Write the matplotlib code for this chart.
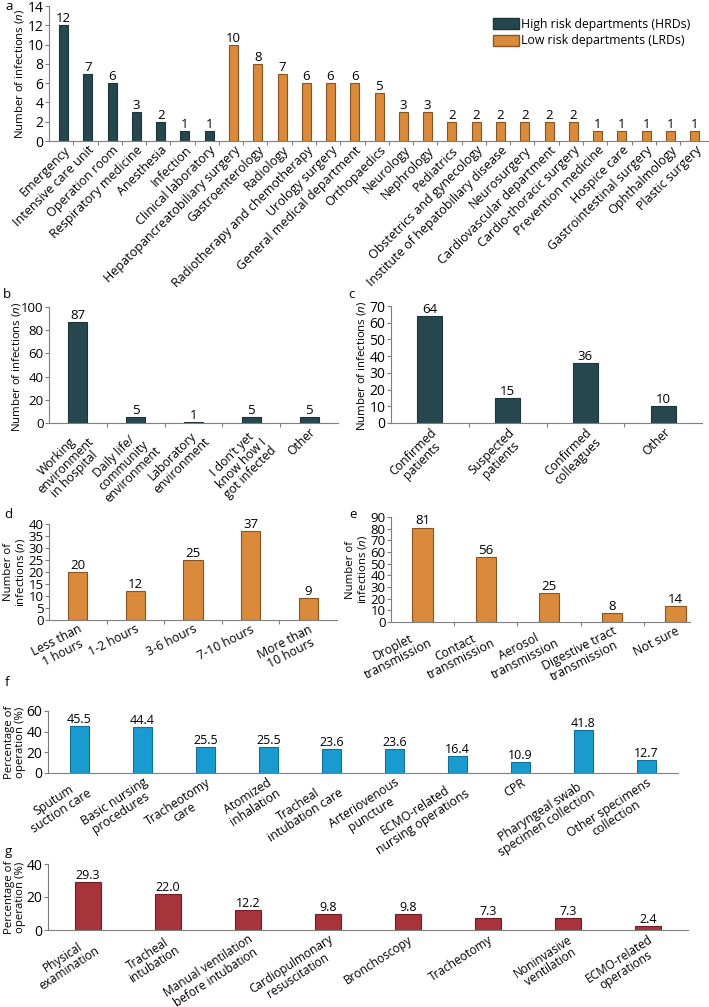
import matplotlib
matplotlib.use("Agg")
import matplotlib.pyplot as plt
from matplotlib.patches import Patch

plt.rcParams['font.family'] = ['Open Sans', 'DejaVu Sans']
plt.rcParams['mathtext.fontset'] = 'custom'
plt.rcParams['mathtext.rm'] = 'Open Sans'
plt.rcParams['mathtext.it'] = 'Open Sans:italic'

# ---------------- data ----------------
a_hrd_labels = ["Emergency", "Intensive care unit", "Operation room", "Respiratory medicine",
                "Anesthesia", "Infection", "Clinical laboratory"]
a_hrd_values = [12, 7, 6, 3, 2, 1, 1]
a_lrd_labels = ["Hepatopancreatobiliary surgery", "Gastroenterology", "Radiology",
                "Radiotherapy and chemotherapy", "Urology surgery", "General medical department",
                "Orthopaedics", "Neurology", "Nephrology", "Pediatrics", "Obstetrics and gynecology",
                "Institute of hepatobiliary disease", "Neurosurgery", "Cardiovascular department",
                "Cardio-thoracic surgery", "Prevention medicine", "Hospice care",
                "Gastrointestinal surgery", "Ophthalmology", "Plastic surgery"]
a_lrd_values = [10, 8, 7, 6, 6, 6, 5, 3, 3, 2, 2, 2, 2, 2, 2, 1, 1, 1, 1, 1]

b_labels = ["Working\nenvironment\nin hospital", "Daily life/\ncommunity\nenvironment",
            "Laboratory\nenvironment", "I don\u2019t yet\nknow how I\ngot infected", "Other"]
b_values = [87, 5, 1, 5, 5]

c_labels = ["Confirmed\npatients", "Suspected\npatients", "Confirmed\ncolleagues", "Other"]
c_values = [64, 15, 36, 10]

d_labels = ["Less than\n1 hours", "1-2 hours", "3-6 hours", "7-10 hours", "More than\n10 hours"]
d_values = [20, 12, 25, 37, 9]

e_labels = ["Droplet\ntransmission", "Contact\ntransmission", "Aerosol\ntransmission",
            "Digestive tract\ntransmission", "Not sure"]
e_values = [81, 56, 25, 8, 14]

f_labels = ["Sputum\nsuction care", "Basic nursing\nprocedures", "Tracheotomy\ncare",
            "Atomized\ninhalation", "Tracheal\nintubation care", "Arteriovenous\npuncture",
            "ECMO-related\nnursing operations", "CPR", "Pharyngeal swab\nspecimen collection",
            "Other specimens\ncollection"]
f_values = [45.5, 44.4, 25.5, 25.5, 23.6, 23.6, 16.4, 10.9, 41.8, 12.7]

g_labels = ["Physical\nexamination", "Tracheal\nintubation", "Manual ventilation\nbefore intubation",
            "Cardiopulmonary\nresuscitation", "Bronchoscopy", "Tracheotomy", "Noninvasive\nventilation",
            "ECMO-related\noperations"]
g_values = [29.3, 22.0, 12.2, 9.8, 9.8, 7.3, 7.3, 2.4]

# ---------------- style ----------------
TEAL, TEAL_E = '#27474e', '#1c3338'
ORANGE, ORANGE_E = '#d98a3a', '#8a5422'
BLUE, BLUE_E = '#1a9bd0', '#136f96'
RED, RED_E = '#a7333b', '#6e1f25'
SPINE = '#7f7f7f'
YLAB_FS = 8.2

W, H = 709, 1007
fig = plt.figure(figsize=(W / 100, H / 100), dpi=100)


def add_ax(l, t, r, b):
    ax = fig.add_axes([l / W, 1 - b / H, (r - l) / W, (b - t) / H])
    ax.patch.set_visible(False)
    return ax


def ylabel(text, xpx, t, b):
    fig.text(xpx / W, 1 - (t + b) / 2 / H, text, rotation=90, ha='center', va='center',
             fontsize=YLAB_FS, multialignment='center', linespacing=1.0)


def style(ax, ylim, yticks, xlim, between_ticks=True, yfs=10):
    for s in ['top', 'right']:
        ax.spines[s].set_visible(False)
    for s in ['left', 'bottom']:
        ax.spines[s].set_color(SPINE)
        ax.spines[s].set_linewidth(0.8)
    ax.set_ylim(*ylim)
    ax.set_yticks(list(yticks))
    ax.set_xlim(*xlim)
    ax.tick_params(axis='y', length=3, width=0.8, color=SPINE, pad=1, labelsize=yfs)
    ax.tick_params(axis='x', which='major', length=0, pad=2)
    if between_ticks:
        n = int(round(xlim[1] - xlim[0]))
        ax.set_xticks([xlim[0] + i + 1 for i in range(n - 1)], minor=True)
        ax.tick_params(axis='x', which='minor', length=3, width=0.8, color=SPINE)


def bars(ax, labels, values, color, ecolor, width, fmt, fs=9.5, rot=45, lfs=8.8):
    x = list(range(len(values)))
    ax.bar(x, values, width=width, color=color, edgecolor=ecolor, linewidth=0.8)
    ax.set_xticks(x)
    ax.set_xticklabels(labels, rotation=rot, ha='right', rotation_mode='anchor',
                       multialignment='center', fontsize=lfs, linespacing=1.0)
    for xi, v in zip(x, values):
        ax.text(xi, v, fmt.format(v), ha='center', va='bottom', fontsize=fs)


# ---------------- panel a ----------------
axa = add_ax(49, 6, 708, 141)
a_labels = a_hrd_labels + a_lrd_labels
a_values = a_hrd_values + a_lrd_values
a_colors = [TEAL] * len(a_hrd_values) + [ORANGE] * len(a_lrd_values)
a_ecolors = [TEAL_E] * len(a_hrd_values) + [ORANGE_E] * len(a_lrd_values)
xa = list(range(len(a_values)))
axa.bar(xa, a_values, width=0.37, color=a_colors, edgecolor=a_ecolors, linewidth=0.8)
axa.set_xticks(xa)
axa.set_xticklabels(a_labels, rotation=45, ha='right', rotation_mode='anchor', fontsize=9)
for xi, v in zip(xa, a_values):
    axa.text(xi, v, str(v), ha='center', va='bottom', fontsize=9.5)
style(axa, (0, 14), range(0, 15, 2), (-0.6, len(a_values) - 0.45))
ylabel('Number of infections ($\\it{n}$)', 20, 6, 141)
axa.legend(handles=[Patch(facecolor=TEAL, edgecolor=TEAL_E, label='High risk departments (HRDs)'),
                    Patch(facecolor=ORANGE, edgecolor=ORANGE_E, label='Low risk departments (LRDs)')],
           loc='upper right', bbox_to_anchor=(0.98, 0.95), frameon=False, fontsize=8.8,
           handlelength=2.2, handleheight=1.0, handletextpad=0.1, labelspacing=0.3, borderaxespad=0)

# ---------------- panel b ----------------
axb = add_ax(49, 307, 338, 423)
bars(axb, b_labels, b_values, TEAL, TEAL_E, 0.33, '{}', rot=45)
style(axb, (0, 100), range(0, 101, 20), (-0.5, 4.5), yfs=9.5)
ylabel('Number of infections ($\\it{n}$)', 17, 310, 423)

# ---------------- panel c ----------------
axc = add_ax(391, 306, 702, 423)
bars(axc, c_labels, c_values, TEAL, TEAL_E, 0.32, '{}', rot=45)
style(axc, (0, 70), range(0, 71, 10), (-0.5, 3.5))
ylabel('Number of infections ($\\it{n}$)', 362, 308, 423)

# ---------------- panel d ----------------
axd = add_ax(49, 524, 337, 620)
bars(axd, d_labels, d_values, ORANGE, ORANGE_E, 0.33, '{}', rot=27)
style(axd, (0, 40), range(0, 41, 5), (-0.5, 4.5), yfs=9.5)
ylabel('Number of\ninfections ($\\it{n}$)', 15, 524, 620)

# ---------------- panel e ----------------
axe = add_ax(391, 517, 690, 622)
bars(axe, e_labels, e_values, ORANGE, ORANGE_E, 0.32, '{}', rot=27)
style(axe, (0, 90), range(0, 91, 10), (-0.5, 4.23), yfs=9.5)
ylabel('Number of\ninfections ($\\it{n}$)', 357, 517, 622)

# ---------------- panel f ----------------
axf = add_ax(48, 711, 678, 773)
bars(axf, f_labels, f_values, BLUE, BLUE_E, 0.29, '{:.1f}', rot=33, fs=9)
style(axf, (0, 60), [0, 20, 40, 60], (-0.5, 9.5), between_ticks=False)
ylabel('Percentage of\noperation (%)', 15, 711, 773)

# ---------------- panel g ----------------
axg = add_ax(48, 864, 688, 930)
bars(axg, g_labels, g_values, RED, RED_E, 0.32, '{:.1f}', rot=33, fs=9, lfs=8.6)
style(axg, (0, 40), [0, 20, 40], (-0.5, 7.5), between_ticks=False)
ylabel('Percentage of\noperation (%)', 15, 864, 930)

# panel letters
for letter, (px, py) in {'a': (5, 7), 'b': (3, 294), 'c': (348, 294), 'd': (4, 515),
                         'e': (349, 515), 'f': (5, 683), 'g': (5, 851)}.items():
    fig.text(px / W, 1 - py / H, letter, fontsize=9.5, ha='left', va='center')

fig.savefig('out.png', dpi=100)
